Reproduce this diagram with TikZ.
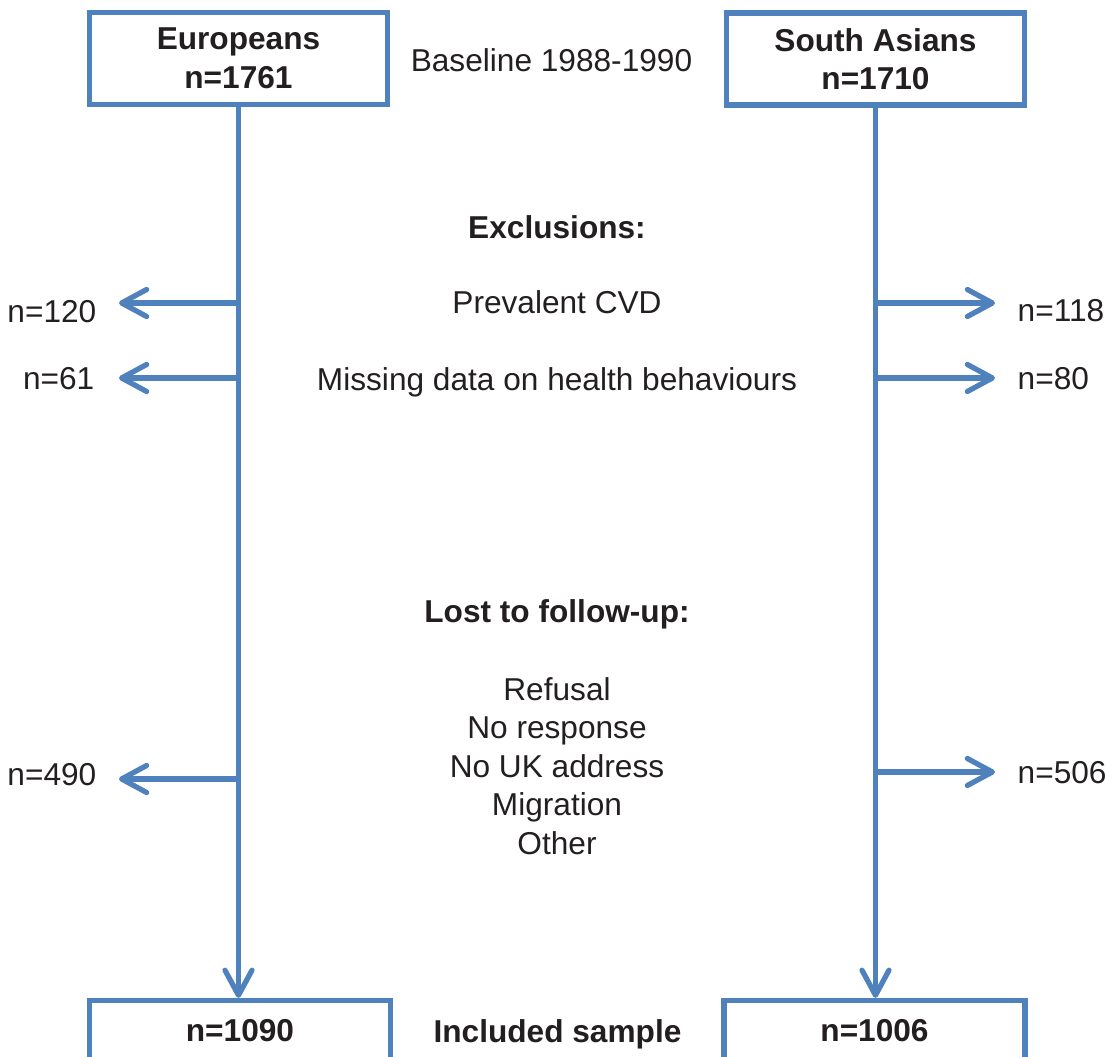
\documentclass[tikz,border=0pt]{standalone}
\usepackage{fontspec}
\setmainfont{Liberation Sans}
\usepackage{xcolor}
\usepackage{tikz}
\usetikzlibrary{positioning,arrows.meta}

\definecolor{flowblue}{HTML}{4F81BD}
\definecolor{flowtext}{HTML}{231F20}
\newcommand{\flowfont}{\fontsize{9}{10.95}\selectfont}

\begin{document}
\begin{tikzpicture}[
    every node/.style={text=flowtext, font=\flowfont},
    cohort/.style={rectangle, draw=flowblue, line width=1.5pt, fill=white, minimum width=2.98cm, minimum height=0.92cm, align=center, font=\flowfont\bfseries},
    final/.style={rectangle, draw=flowblue, line width=1.5pt, fill=white, minimum width=3.01cm, minimum height=0.6cm, align=center, font=\flowfont\bfseries},
    heading/.style={anchor=base, font=\flowfont\bfseries},
    note/.style={align=center, inner sep=0pt},
    count/.style={inner sep=0pt},
    arrow/.style={-{Straight Barb[length=2.5mm,width=2.7mm,round]}, draw=flowblue, line width=1.5pt},
    loss/.style={arrow, shorten >=2.2mm}
]
\useasboundingbox (0,0) rectangle (11.05,-10.57);

\node[cohort] (eu) at (2.385,-0.585) {Europeans\\n=1761};
\node[cohort] (sa) at (8.755,-0.59) {South Asians\\n=1710};
\node[final] (eufin) at (2.40,-10.305) {n=1090};
\node[final] (safin) at (8.745,-10.305) {n=1006};

\node[anchor=base] (baseline) at (5.515,-0.72) {Baseline 1988-1990};
\node[heading] (excl) at (5.57,-2.39) {Exclusions:};
\node[anchor=base] (cvd) at (5.57,-3.14) {Prevalent CVD};
\node[anchor=base] (missing) at (5.57,-3.91) {Missing data on health behaviours};
\node[heading] (lost) at (5.57,-6.23) {Lost to follow-up:};
\node[note] (reasons) at (5.57,-7.66) {Refusal\\No response\\No UK address\\Migration\\Other};
\node[heading] (incl) at (5.575,-10.43) {Included sample};

% counts excluded or lost
\node[count, anchor=base east] (eu120) at (0.97,-3.23) {n=120};
\node[count, anchor=base east] (eu61) at (0.95,-3.90) {n=61};
\node[count, anchor=base east] (eu490) at (0.97,-7.85) {n=490};
\node[count, anchor=base west] (sa118) at (10.17,-3.22) {n=118};
\node[count, anchor=base west] (sa80) at (10.17,-3.90) {n=80};
\node[count, anchor=base west] (sa506) at (10.17,-7.83) {n=506};

\coordinate (euCVD) at (2.385,-3.03);
\coordinate (euMiss) at (2.385,-3.78);
\coordinate (euLost) at (2.385,-7.79);
\coordinate (saCVD) at (8.755,-3.03);
\coordinate (saMiss) at (8.755,-3.78);
\coordinate (saLost) at (8.755,-7.72);

\draw[arrow] (eu.south) -- (eu.south |- eufin.north);
\draw[arrow] (sa.south) -- (sa.south |- safin.north);
\draw[loss] (euCVD) -- (euCVD -| eu120.east);
\draw[loss] (euMiss) -- (euMiss -| eu120.east);
\draw[loss] (euLost) -- (euLost -| eu490.east);
\draw[loss] (saCVD) -- (saCVD -| sa118.west);
\draw[loss] (saMiss) -- (saMiss -| sa118.west);
\draw[loss] (saLost) -- (saLost -| sa506.west);

\end{tikzpicture}
\end{document}
